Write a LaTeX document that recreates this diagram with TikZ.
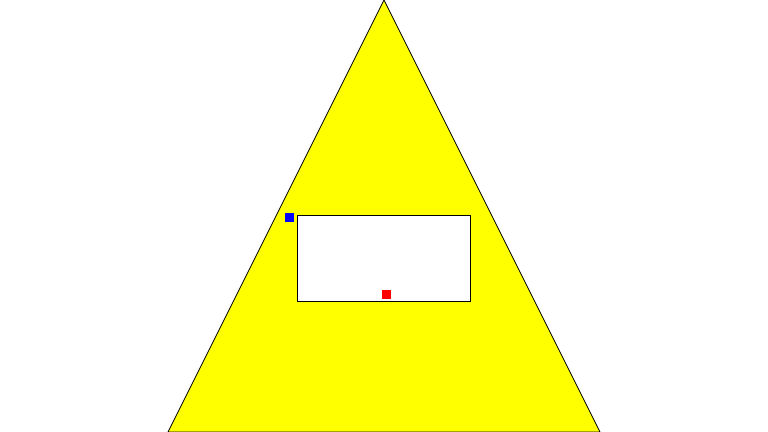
\documentclass[tikz,border=0pt]{standalone}
\usepackage{xcolor}
\usepackage{tikz}
\usetikzlibrary{positioning,calc}
\definecolor{fillyellow}{RGB}{255,255,0}
\definecolor{markblue}{RGB}{0,0,255}
\definecolor{markred}{RGB}{255,0,0}
\newcommand{\markbox}[2]{\fill[#1] #2 ++(-4.5,-4.5) rectangle ++(9,9);}

\begin{document}
\begin{tikzpicture}[x=0.02cm,y=-0.02cm]
\useasboundingbox (0,0) rectangle (768,432);
\draw[fill=fillyellow,line width=0.4pt] (384,0) -- (600,432) -- (168,432) -- cycle;
\draw[fill=white,line width=0.4pt] (297,215) rectangle (470,301);
\markbox{markblue}{(289.5,217.5)}
\markbox{markred}{(386,295)}
\end{tikzpicture}
\end{document}
